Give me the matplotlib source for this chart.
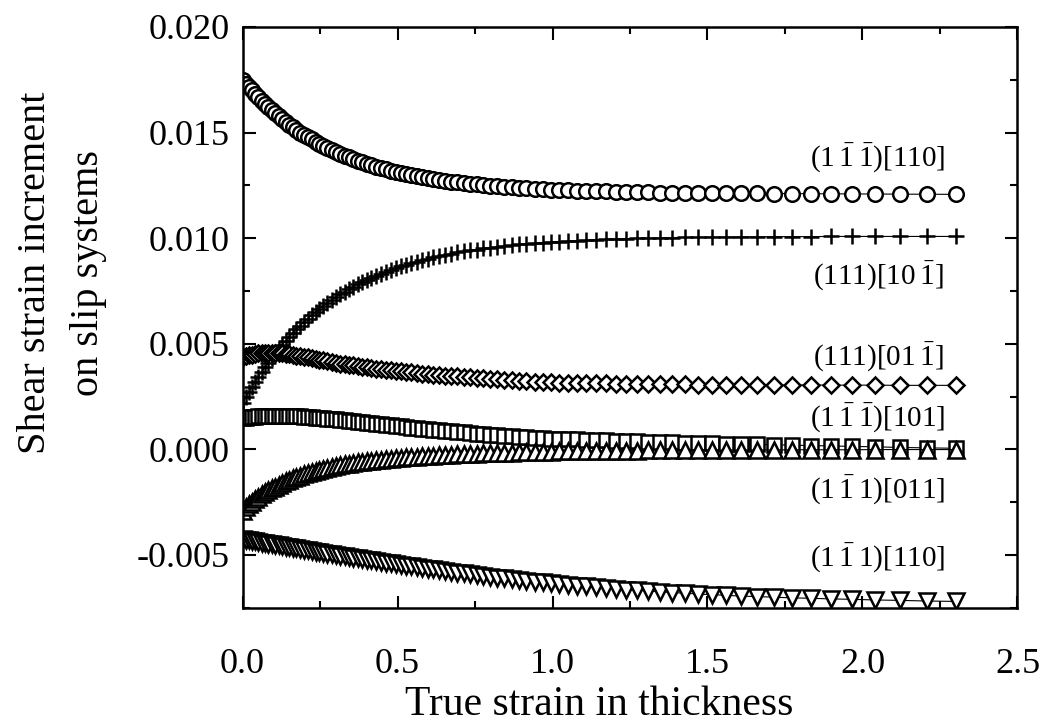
import numpy as np
import matplotlib
matplotlib.use("Agg")
import matplotlib.pyplot as plt

plt.rcParams['font.family'] = ['Liberation Serif', 'DejaVu Serif']
plt.rcParams['mathtext.fontset'] = 'custom'
plt.rcParams['mathtext.rm'] = 'Liberation Serif'

# true strain in thickness (thickness reduced in steps of 1 %)
strain = [0.000, 0.010, 0.020, 0.030, 0.041, 0.051, 0.062, 0.073, 0.083, 0.094,
          0.105, 0.117, 0.128, 0.139, 0.151, 0.163, 0.174, 0.186, 0.198, 0.211,
          0.223, 0.236, 0.248, 0.261, 0.274, 0.288, 0.301, 0.315, 0.329, 0.342,
          0.357, 0.371, 0.386, 0.400, 0.416, 0.431, 0.446, 0.462, 0.478, 0.494,
          0.511, 0.528, 0.545, 0.562, 0.580, 0.598, 0.616, 0.635, 0.654, 0.673,
          0.693, 0.713, 0.734, 0.755, 0.777, 0.799, 0.821, 0.844, 0.868, 0.892,
          0.916, 0.942, 0.968, 0.994, 1.022, 1.050, 1.079, 1.109, 1.139, 1.171,
          1.204, 1.238, 1.273, 1.309, 1.347, 1.386, 1.427, 1.470, 1.514, 1.561,
          1.609, 1.661, 1.715, 1.772, 1.833, 1.897, 1.966, 2.040, 2.120, 2.207,
          2.303]

# shear strain increments, in units of 1e-3
g_circle = [17.50, 17.32, 17.15, 16.99, 16.81, 16.66, 16.49, 16.33, 16.19, 16.05,
            15.91, 15.76, 15.62, 15.50, 15.36, 15.24, 15.12, 15.00, 14.89, 14.77,
            14.67, 14.56, 14.46, 14.36, 14.27, 14.17, 14.08, 13.99, 13.90, 13.83,
            13.74, 13.67, 13.59, 13.52, 13.45, 13.38, 13.32, 13.26, 13.20, 13.14,
            13.08, 13.03, 12.98, 12.93, 12.88, 12.84, 12.79, 12.75, 12.71, 12.67,
            12.64, 12.60, 12.57, 12.54, 12.51, 12.48, 12.45, 12.42, 12.40, 12.38,
            12.35, 12.33, 12.31, 12.30, 12.28, 12.26, 12.25, 12.23, 12.22, 12.21,
            12.20, 12.19, 12.18, 12.17, 12.16, 12.15, 12.15, 12.14, 12.13, 12.13,
            12.12, 12.12, 12.11, 12.11, 12.10, 12.10, 12.09, 12.09, 12.08, 12.08,
            12.07]
g_plus = [2.20, 2.46, 2.71, 2.95, 3.21, 3.43, 3.67, 3.91, 4.11, 4.33,
          4.53, 4.75, 4.94, 5.13, 5.32, 5.51, 5.68, 5.85, 6.02, 6.19,
          6.34, 6.50, 6.64, 6.79, 6.93, 7.08, 7.20, 7.34, 7.46, 7.57,
          7.70, 7.81, 7.92, 8.02, 8.13, 8.22, 8.31, 8.41, 8.49, 8.58,
          8.66, 8.74, 8.82, 8.89, 8.96, 9.02, 9.09, 9.15, 9.21, 9.26,
          9.32, 9.37, 9.42, 9.46, 9.51, 9.55, 9.59, 9.63, 9.66, 9.70,
          9.73, 9.76, 9.79, 9.81, 9.84, 9.86, 9.88, 9.90, 9.92, 9.94,
          9.96, 9.97, 9.99, 10.00, 10.01, 10.02, 10.03, 10.04, 10.05, 10.05,
          10.06, 10.06, 10.07, 10.07, 10.07, 10.08, 10.08, 10.08, 10.08, 10.08,
          10.08]
g_diamond = [4.35, 4.40, 4.45, 4.49, 4.52, 4.54, 4.56, 4.57, 4.58, 4.58,
             4.58, 4.56, 4.55, 4.52, 4.50, 4.47, 4.44, 4.41, 4.38, 4.35,
             4.32, 4.28, 4.25, 4.21, 4.17, 4.13, 4.10, 4.06, 4.03, 4.00,
             3.97, 3.94, 3.91, 3.88, 3.85, 3.82, 3.80, 3.77, 3.74, 3.72,
             3.69, 3.67, 3.64, 3.61, 3.59, 3.56, 3.54, 3.52, 3.49, 3.47,
             3.45, 3.43, 3.41, 3.38, 3.36, 3.34, 3.32, 3.30, 3.27, 3.25,
             3.23, 3.21, 3.19, 3.17, 3.16, 3.15, 3.14, 3.13, 3.12, 3.12,
             3.11, 3.10, 3.10, 3.09, 3.09, 3.08, 3.08, 3.07, 3.07, 3.06,
             3.06, 3.06, 3.05, 3.05, 3.05, 3.04, 3.04, 3.04, 3.03, 3.03,
             3.03]
g_square = [1.47, 1.49, 1.51, 1.53, 1.55, 1.56, 1.57, 1.58, 1.59, 1.60,
            1.60, 1.60, 1.60, 1.59, 1.59, 1.58, 1.57, 1.56, 1.55, 1.53,
            1.52, 1.50, 1.49, 1.47, 1.45, 1.43, 1.42, 1.40, 1.37, 1.35,
            1.33, 1.31, 1.28, 1.26, 1.24, 1.21, 1.19, 1.16, 1.14, 1.11,
            1.09, 1.06, 1.03, 1.01, 0.98, 0.96, 0.93, 0.90, 0.88, 0.85,
            0.83, 0.80, 0.78, 0.75, 0.73, 0.70, 0.68, 0.65, 0.63, 0.60,
            0.58, 0.56, 0.53, 0.51, 0.50, 0.48, 0.47, 0.45, 0.44, 0.42,
            0.41, 0.39, 0.38, 0.36, 0.35, 0.33, 0.32, 0.30, 0.29, 0.27,
            0.25, 0.24, 0.22, 0.20, 0.18, 0.16, 0.14, 0.12, 0.09, 0.07,
            0.05]
g_up = [-2.90, -2.75, -2.61, -2.48, -2.35, -2.24, -2.13, -2.02, -1.93, -1.84,
        -1.76, -1.67, -1.59, -1.51, -1.44, -1.37, -1.30, -1.24, -1.17, -1.11,
        -1.06, -1.01, -0.96, -0.91, -0.87, -0.82, -0.78, -0.74, -0.71, -0.68,
        -0.65, -0.62, -0.59, -0.56, -0.53, -0.51, -0.49, -0.46, -0.44, -0.42,
        -0.40, -0.38, -0.36, -0.35, -0.33, -0.31, -0.30, -0.28, -0.27, -0.25,
        -0.24, -0.23, -0.22, -0.20, -0.19, -0.18, -0.17, -0.16, -0.15, -0.14,
        -0.13, -0.12, -0.12, -0.11, -0.10, -0.10, -0.09, -0.08, -0.08, -0.07,
        -0.07, -0.06, -0.06, -0.05, -0.05, -0.05, -0.04, -0.04, -0.04, -0.03,
        -0.03, -0.03, -0.03, -0.02, -0.02, -0.02, -0.02, -0.01, -0.01, -0.01,
        -0.01]
g_down = [-4.25, -4.28, -4.30, -4.33, -4.35, -4.38, -4.41, -4.43, -4.46, -4.49,
          -4.51, -4.54, -4.57, -4.60, -4.63, -4.66, -4.69, -4.72, -4.75, -4.78,
          -4.81, -4.84, -4.87, -4.90, -4.94, -4.97, -5.00, -5.03, -5.06, -5.09,
          -5.13, -5.16, -5.19, -5.22, -5.26, -5.29, -5.33, -5.36, -5.40, -5.44,
          -5.47, -5.51, -5.54, -5.57, -5.61, -5.65, -5.68, -5.72, -5.76, -5.80,
          -5.84, -5.87, -5.91, -5.95, -5.99, -6.03, -6.07, -6.10, -6.14, -6.18,
          -6.22, -6.26, -6.30, -6.34, -6.38, -6.41, -6.45, -6.49, -6.53, -6.56,
          -6.60, -6.64, -6.67, -6.71, -6.74, -6.78, -6.81, -6.85, -6.88, -6.91,
          -6.95, -6.97, -7.00, -7.03, -7.05, -7.08, -7.10, -7.13, -7.15, -7.18,
          -7.20]

labels = [r'$\mathrm{(1\,\bar{1}\,\bar{1})[110]}$',
          r'$\mathrm{(111)[10\,\bar{1}]}$',
          r'$\mathrm{(111)[01\,\bar{1}]}$',
          r'$\mathrm{(1\,\bar{1}\,\bar{1})[101]}$',
          r'$\mathrm{(1\,\bar{1}\,1)[011]}$',
          r'$\mathrm{(1\,\bar{1}\,1)[110]}$']
label_y = [0.0138, 0.0082, 0.00435, 0.00147, -0.00194, -0.00516]

fig = plt.figure(figsize=(10.5, 7.27), dpi=100)
ax = fig.add_axes([0.231, 0.164, 0.738, 0.799])

series = [(g_circle, 'o', 10.5), (g_plus, '+', 12), (g_diamond, 'D', 8.5),
          (g_square, 's', 10), (g_up, '^', 11), (g_down, 'v', 11)]
for vals, m, ms in series:
    y = np.array(vals) * 1e-3
    ax.plot(strain, y, '-', color='black', lw=0.8, marker=m, ms=ms,
            mfc='white', mec='black', mew=1.8)

for txt, ly in zip(labels, label_y):
    ax.text(2.05, ly, txt, ha='center', va='center', fontsize=21)

ax.set_xlim(0, 2.5)
ax.set_ylim(-0.0075, 0.020)
ax.set_xticks([0.0, 0.5, 1.0, 1.5, 2.0, 2.5])
ax.set_xticks(np.arange(0, 2.5, 0.25), minor=True)
ax.set_yticks([-0.005, 0.0, 0.005, 0.010, 0.015, 0.020])
ax.set_yticks(np.arange(-0.0075, 0.020, 0.0025), minor=True)
ax.set_xticklabels(['0.0', '0.5', '1.0', '1.5', '2.0', '2.5'])
ax.set_yticklabels(['-0.005', '0.000', '0.005', '0.010', '0.015', '0.020'])
ax.tick_params(which='both', direction='in', top=True, right=True, width=1.5)
ax.tick_params(which='major', length=9, labelsize=26, pad=9)
ax.tick_params(which='minor', length=5)
ax.tick_params(axis='x', which='major', pad=29)
for s in ax.spines.values():
    s.set_linewidth(1.8)

fig.text(0.571, 0.03, 'True strain in thickness', ha='center', va='center',
         fontsize=30)
fig.text(0.059, 0.625, 'Shear strain increment\non slip systems', ha='center',
         va='center', rotation=90, fontsize=29, linespacing=1.6)

fig.savefig('out.png', dpi=100)
